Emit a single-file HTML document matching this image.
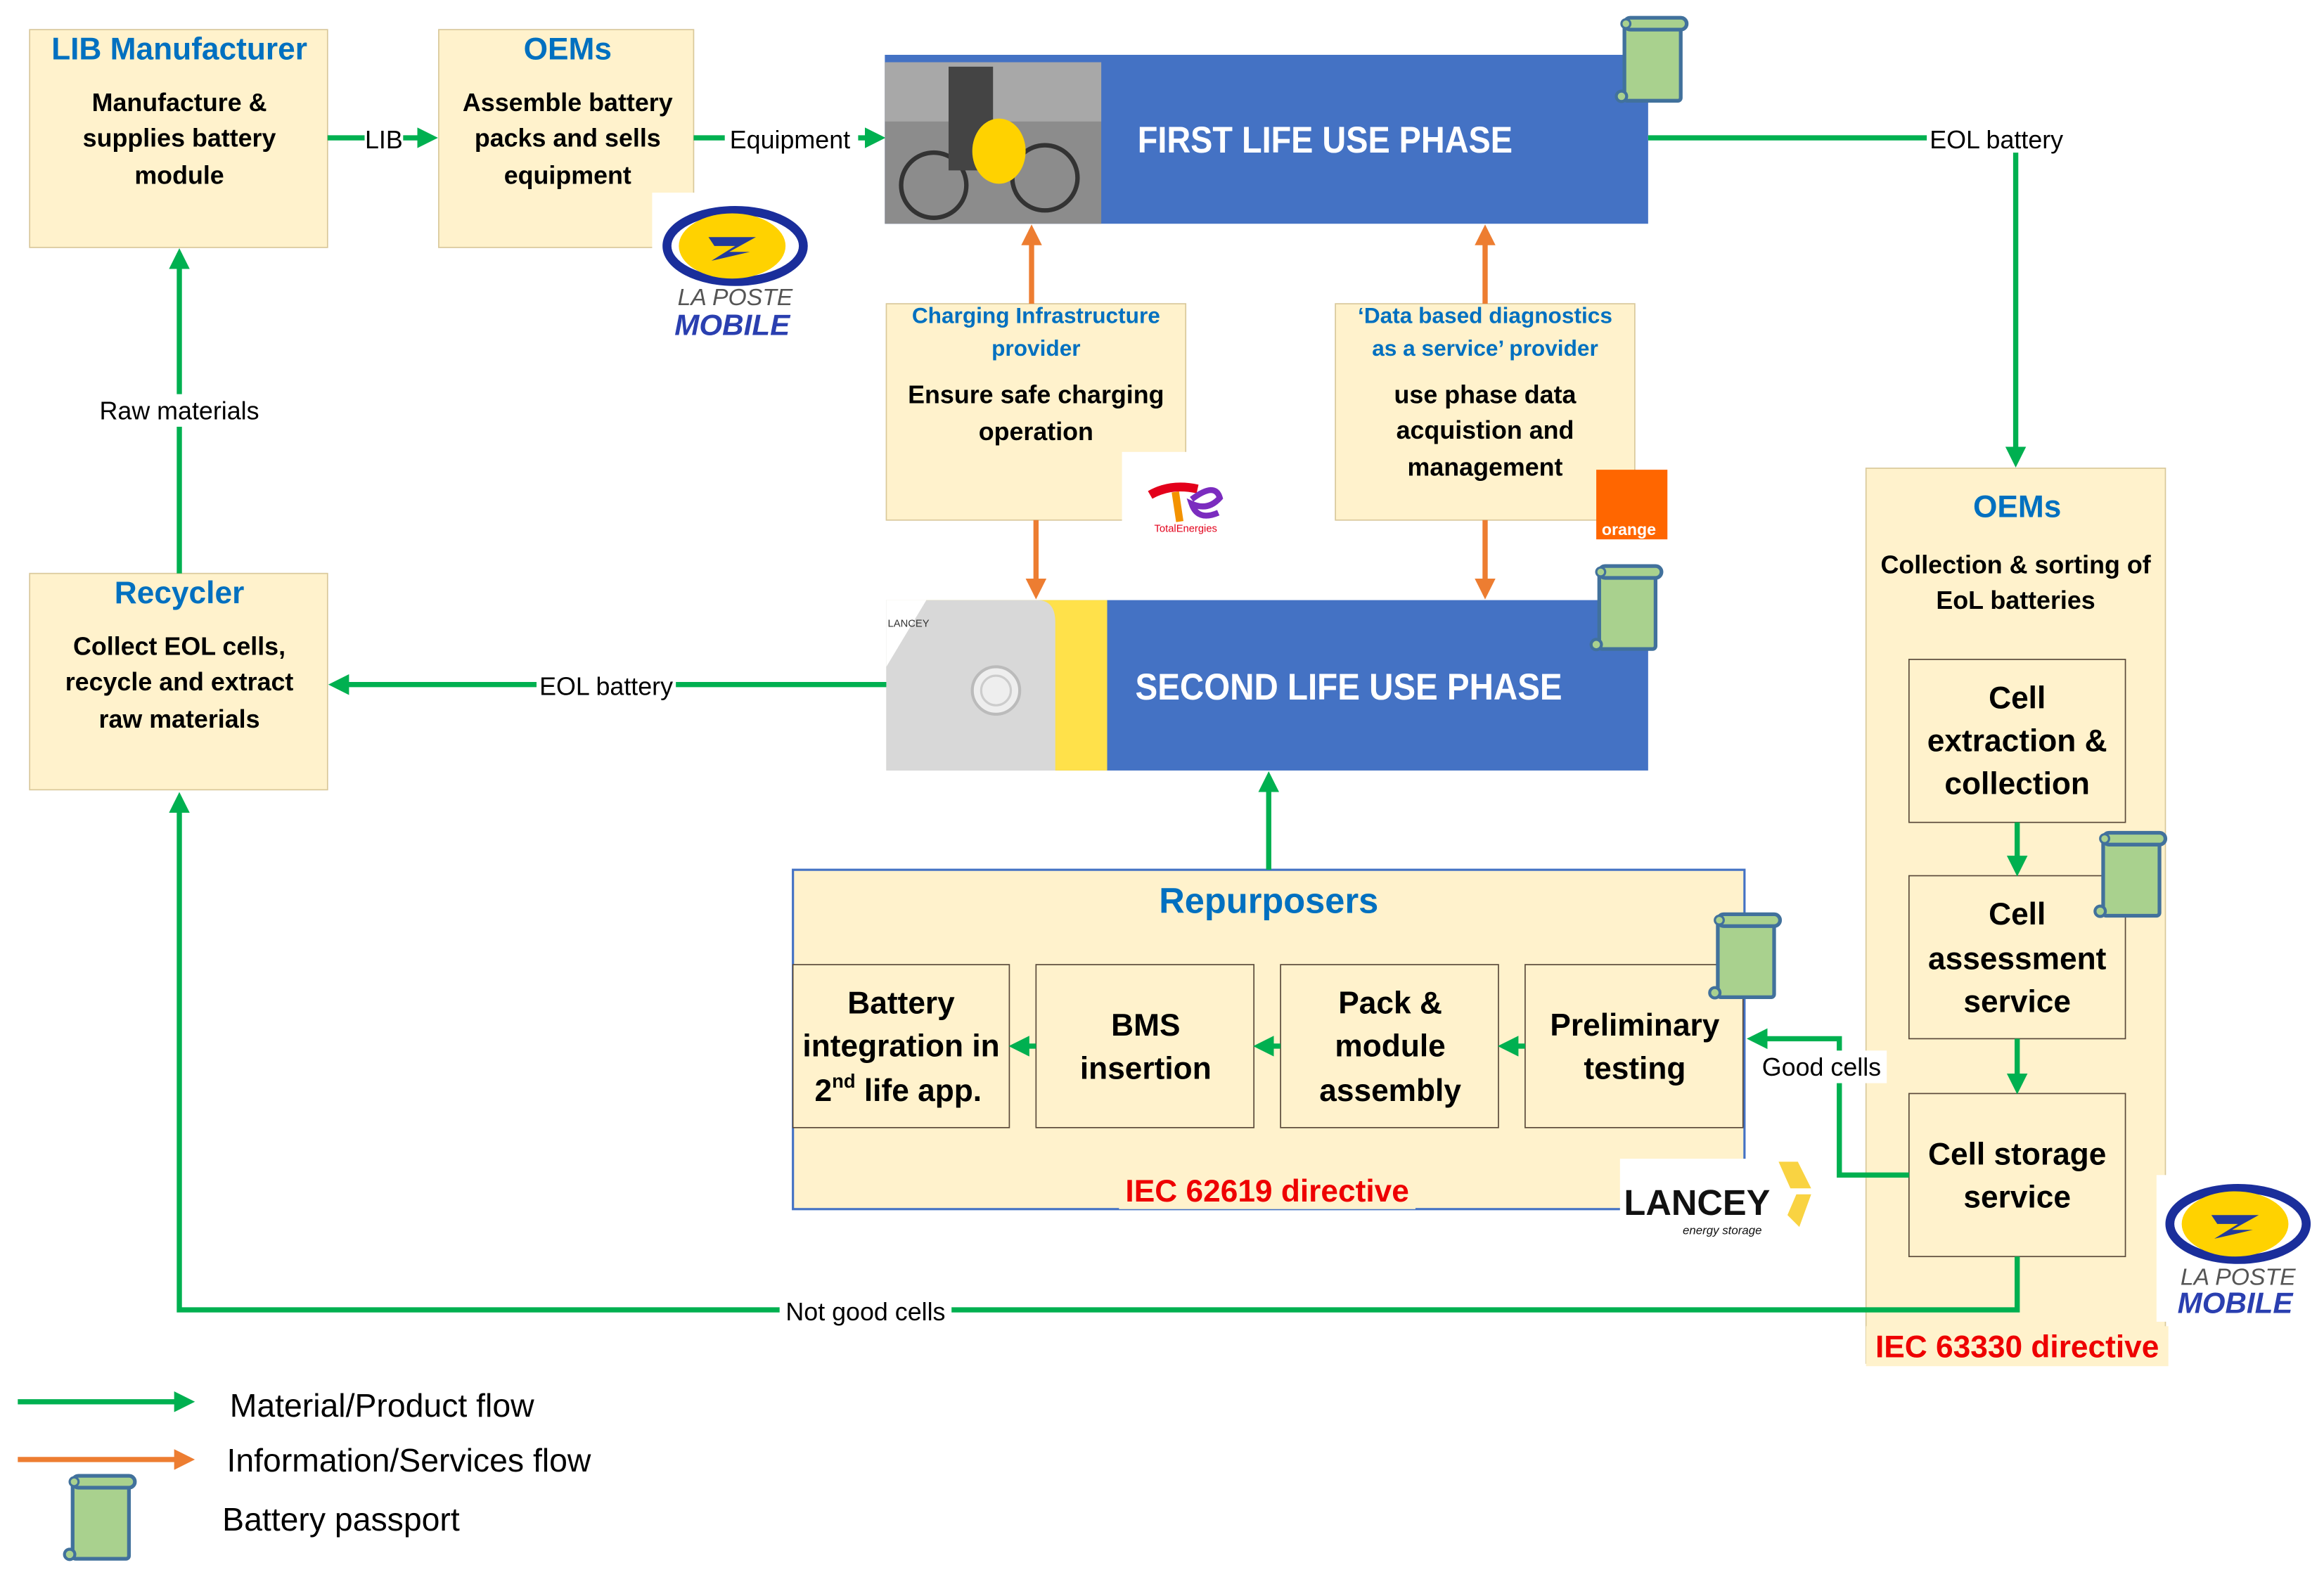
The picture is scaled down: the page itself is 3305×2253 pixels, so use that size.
<!DOCTYPE html>
<html><head><meta charset="utf-8"><style>
html,body{margin:0;padding:0;background:#fff;}
svg{display:block;}
text{font-family:"Liberation Sans Narrow","Liberation Sans",sans-serif;}
.t{fill:#0070c0;font-weight:bold;text-anchor:middle;}
.b{fill:#000;font-weight:bold;text-anchor:middle;}
.n{fill:#000;text-anchor:middle;}
.box{fill:#fff2cc;stroke:#d9c89a;stroke-width:0.8;}
.sub{fill:#fff2cc;stroke:#5a4a3a;stroke-width:0.8;}
.g{stroke:#00b050;stroke-width:3.5;fill:none;}
.o{stroke:#ed7d31;stroke-width:3.5;fill:none;}
.red{fill:#ee0000;font-weight:bold;text-anchor:middle;}
</style></head><body>
<svg width="3305" height="2253" viewBox="0 0 1568 1069" preserveAspectRatio="none" xmlns="http://www.w3.org/2000/svg">
<defs>
<marker id="ga" markerWidth="4" markerHeight="4" refX="3" refY="2" orient="auto" markerUnits="strokeWidth"><path d="M0,0 L4,2 L0,4 z" fill="#00b050"/></marker>
<marker id="oa" markerWidth="4" markerHeight="4" refX="3" refY="2" orient="auto" markerUnits="strokeWidth"><path d="M0,0 L4,2 L0,4 z" fill="#ed7d31"/></marker>
<g id="pp">
<rect x="8" y="6" width="38" height="52" fill="#a9d18e" stroke="#41719c" stroke-width="2.5" rx="2"/>
<rect x="8" y="2" width="42" height="8" rx="4" fill="#a9d18e" stroke="#41719c" stroke-width="2.5"/>
<circle cx="9" cy="6" r="3" fill="#a9d18e" stroke="#41719c" stroke-width="1.5"/>
<circle cx="6" cy="55" r="3.5" fill="#a9d18e" stroke="#41719c" stroke-width="2"/>
</g>
<g id="lp">
<ellipse cx="52" cy="30" rx="46" ry="24" fill="none" stroke="#1a2e9b" stroke-width="6"/>
<ellipse cx="50" cy="30" rx="36" ry="22" fill="#ffd200"/>
<path d="M34,24 L66,24 L48,34 L62,34 L36,40 L52,30 L38,30 z" fill="#233a9a"/>
</g>
</defs>

<rect class="box" x="20" y="20" width="201" height="147"/>
<text class="t" x="121" y="40" font-size="21">LIB Manufacturer</text>
<text class="b" x="121" y="75" font-size="17">Manufacture &amp;</text>
<text class="b" x="121" y="99" font-size="17">supplies battery</text>
<text class="b" x="121" y="124" font-size="17">module</text>

<rect class="box" x="296" y="20" width="172" height="147"/>
<text class="t" x="383" y="40" font-size="21">OEMs</text>
<text class="b" x="383" y="75" font-size="17">Assemble battery</text>
<text class="b" x="383" y="99" font-size="17">packs and sells</text>
<text class="b" x="383" y="124" font-size="17">equipment</text>
<rect x="440" y="130" width="106" height="102" fill="#fff"/>
<use href="#lp" x="444" y="136"/>
<text x="496" y="206" font-size="16" fill="#555" text-anchor="middle" font-style="italic" font-family="Liberation Sans">LA POSTE</text>
<text x="494" y="226" font-size="20" fill="#2a3fb0" text-anchor="middle" font-style="italic" font-weight="bold" font-family="Liberation Sans">MOBILE</text>

<line class="g" x1="221" y1="93" x2="292" y2="93" marker-end="url(#ga)"/>
<rect x="246" y="83" width="26" height="20" fill="#fff"/>
<text class="n" x="259" y="100" font-size="17">LIB</text>
<line class="g" x1="468" y1="93" x2="594" y2="93" marker-end="url(#ga)"/>
<rect x="489" y="83" width="90" height="20" fill="#fff"/>
<text class="n" x="533" y="100" font-size="17">Equipment</text>

<rect x="597" y="37" width="515" height="114" fill="#4472c4"/>
<rect x="597" y="42" width="146" height="109" fill="#8c8c8c"/>
<rect x="597" y="42" width="146" height="40" fill="#a8a8a8"/>
<circle cx="630" cy="125" r="22" fill="none" stroke="#333" stroke-width="3"/>
<circle cx="705" cy="120" r="22" fill="none" stroke="#333" stroke-width="3"/>
<rect x="640" y="45" width="30" height="70" fill="#444"/>
<ellipse cx="674" cy="102" rx="18" ry="22" fill="#ffd200"/>
<text x="894" y="103" font-size="25" fill="#fff" font-weight="bold" text-anchor="middle" textLength="253" lengthAdjust="spacingAndGlyphs">FIRST LIFE USE PHASE</text>
<use href="#pp" x="1088" y="10"/>

<line class="g" x1="1112" y1="93" x2="1360" y2="93"/>
<line class="g" x1="1360" y1="93" x2="1360" y2="312" marker-end="url(#ga)"/>
<rect x="1300" y="83" width="94" height="20" fill="#fff"/>
<text class="n" x="1347" y="100" font-size="17">EOL battery</text>

<rect class="box" x="598" y="205" width="202" height="146"/>
<text class="t" x="699" y="218" font-size="15">Charging Infrastructure</text>
<text class="t" x="699" y="240" font-size="15">provider</text>
<text class="b" x="699" y="272" font-size="17">Ensure safe charging</text>
<text class="b" x="699" y="297" font-size="17">operation</text>
<rect x="757" y="305" width="88" height="62" fill="#fff"/>
<path d="M776,334 Q790,326 808,330" stroke="#e3001b" stroke-width="6" fill="none"/>
<path d="M793,332 L796,352" stroke="#f39200" stroke-width="5"/>
<path d="M804,337 Q820,325 823,336 Q815,345 804,340 Q808,352 822,346" stroke="#7b2cbf" stroke-width="4" fill="none"/>
<text x="800" y="359" font-size="7" fill="#e3001b" text-anchor="middle">TotalEnergies</text>
<line class="o" x1="696" y1="205" x2="696" y2="155" marker-end="url(#oa)"/>
<line class="o" x1="699" y1="351" x2="699" y2="401" marker-end="url(#oa)"/>

<rect class="box" x="901" y="205" width="202" height="146"/>
<text class="t" x="1002" y="218" font-size="15">‘Data based diagnostics</text>
<text class="t" x="1002" y="240" font-size="15">as a service’ provider</text>
<text class="b" x="1002" y="272" font-size="17">use phase data</text>
<text class="b" x="1002" y="296" font-size="17">acquistion and</text>
<text class="b" x="1002" y="321" font-size="17">management</text>
<rect x="1077" y="317" width="48" height="47" fill="#ff6600"/>
<text x="1099" y="361" font-size="11" fill="#fff" text-anchor="middle" font-weight="bold">orange</text>
<line class="o" x1="1002" y1="205" x2="1002" y2="155" marker-end="url(#oa)"/>
<line class="o" x1="1002" y1="351" x2="1002" y2="401" marker-end="url(#oa)"/>

<rect x="598" y="405" width="514" height="115" fill="#4472c4"/>
<rect x="598" y="405" width="149" height="115" fill="#ffe14a"/>
<path d="M598,405 L700,405 Q712,405 712,420 L712,520 L598,520 z" fill="#d8d8d8"/>
<path d="M598,405 L625,405 L598,450 z" fill="#fff"/>
<circle cx="672" cy="466" r="16" fill="#eee" stroke="#bbb" stroke-width="2"/>
<circle cx="672" cy="466" r="10" fill="none" stroke="#ccc" stroke-width="1.5"/>
<text x="613" y="423" font-size="7" fill="#333" text-anchor="middle">LANCEY</text>
<text x="910" y="472" font-size="25" fill="#fff" font-weight="bold" text-anchor="middle" textLength="288" lengthAdjust="spacingAndGlyphs">SECOND LIFE USE PHASE</text>
<use href="#pp" x="1071" y="380"/>

<line class="g" x1="598" y1="462" x2="225" y2="462" marker-end="url(#ga)"/>
<rect x="362" y="452" width="94" height="20" fill="#fff"/>
<text class="n" x="409" y="469" font-size="17">EOL battery</text>

<rect class="box" x="20" y="387" width="201" height="146"/>
<text class="t" x="121" y="407" font-size="21">Recycler</text>
<text class="b" x="121" y="442" font-size="17">Collect EOL cells,</text>
<text class="b" x="121" y="466" font-size="17">recycle and extract</text>
<text class="b" x="121" y="491" font-size="17">raw materials</text>
<line class="g" x1="121" y1="387" x2="121" y2="171" marker-end="url(#ga)"/>
<rect x="60" y="266" width="122" height="22" fill="#fff"/>
<text class="n" x="121" y="283" font-size="17">Raw materials</text>

<rect x="535" y="587" width="642" height="229" fill="#fff2cc" stroke="#4472c4" stroke-width="1.5"/>
<text class="t" x="856" y="616" font-size="24">Repurposers</text>
<rect class="sub" x="535" y="651" width="146" height="110"/>
<rect class="sub" x="699" y="651" width="147" height="110"/>
<rect class="sub" x="864" y="651" width="147" height="110"/>
<rect class="sub" x="1029" y="651" width="147" height="110"/>
<text class="b" x="608" y="684" font-size="21">Battery</text>
<text class="b" x="608" y="713" font-size="21">integration in</text>
<text class="b" x="606" y="743" font-size="21">2<tspan font-size="13" dy="-9">nd</tspan><tspan dy="9"> life app.</tspan></text>
<text class="b" x="773" y="699" font-size="21">BMS</text>
<text class="b" x="773" y="728" font-size="21">insertion</text>
<text class="b" x="938" y="684" font-size="21">Pack &amp;</text>
<text class="b" x="938" y="713" font-size="21">module</text>
<text class="b" x="938" y="743" font-size="21">assembly</text>
<text class="b" x="1103" y="699" font-size="21">Preliminary</text>
<text class="b" x="1103" y="728" font-size="21">testing</text>
<line class="g" x1="699" y1="706" x2="684" y2="706" marker-end="url(#ga)"/>
<line class="g" x1="864" y1="706" x2="849" y2="706" marker-end="url(#ga)"/>
<line class="g" x1="1029" y1="706" x2="1014" y2="706" marker-end="url(#ga)"/>
<use href="#pp" x="1151" y="615"/>
<line class="g" x1="856" y1="587" x2="856" y2="524" marker-end="url(#ga)"/>
<rect x="755" y="790" width="200" height="26" fill="#fff2cc"/>
<text class="red" x="855" y="811" font-size="21">IEC 62619 directive</text>
<rect x="1093" y="782" width="132" height="56" fill="#fff"/>
<text x="1145" y="820" font-size="24" font-weight="bold" fill="#111" text-anchor="middle" font-family="Liberation Sans">LANCEY</text>
<text x="1162" y="833" font-size="8" font-style="italic" fill="#111" text-anchor="middle">energy storage</text>
<path d="M1200,784 L1213,784 L1222,802 L1208,802 z M1212,806 L1222,806 L1214,828 L1206,820 z" fill="#f9d342"/>

<rect class="box" x="1259" y="316" width="202" height="604"/>
<text class="t" x="1361" y="349" font-size="21">OEMs</text>
<text class="b" x="1360" y="387" font-size="17">Collection &amp; sorting of</text>
<text class="b" x="1360" y="411" font-size="17">EoL batteries</text>
<rect class="sub" x="1288" y="445" width="146" height="110"/>
<rect class="sub" x="1288" y="591" width="146" height="110"/>
<rect class="sub" x="1288" y="738" width="146" height="110"/>
<text class="b" x="1361" y="478" font-size="21">Cell</text>
<text class="b" x="1361" y="507" font-size="21">extraction &amp;</text>
<text class="b" x="1361" y="536" font-size="21">collection</text>
<text class="b" x="1361" y="624" font-size="21">Cell</text>
<text class="b" x="1361" y="654" font-size="21">assessment</text>
<text class="b" x="1361" y="683" font-size="21">service</text>
<text class="b" x="1361" y="786" font-size="21">Cell storage</text>
<text class="b" x="1361" y="815" font-size="21">service</text>
<line class="g" x1="1361" y1="555" x2="1361" y2="588" marker-end="url(#ga)"/>
<line class="g" x1="1361" y1="701" x2="1361" y2="735" marker-end="url(#ga)"/>
<use href="#pp" x="1411" y="560"/>

<polyline class="g" points="1288,793 1241,793 1241,701 1182,701" marker-end="url(#ga)"/>
<rect x="1185" y="709" width="88" height="22" fill="#fff"/>
<text class="n" x="1229" y="726" font-size="17">Good cells</text>

<polyline class="g" points="1361,848 1361,884 121,884 121,538" marker-end="url(#ga)"/>
<rect x="526" y="874" width="116" height="20" fill="#fff"/>
<text class="n" x="584" y="891" font-size="17">Not good cells</text>

<rect x="1455" y="793" width="105" height="99" fill="#fff"/>
<use href="#lp" x="1458" y="796"/>
<text x="1510" y="867" font-size="16" fill="#555" text-anchor="middle" font-style="italic" font-family="Liberation Sans">LA POSTE</text>
<text x="1508" y="886" font-size="20" fill="#2a3fb0" text-anchor="middle" font-style="italic" font-weight="bold" font-family="Liberation Sans">MOBILE</text>
<rect x="1259" y="895" width="204" height="27" fill="#fff2cc"/>
<text class="red" x="1361" y="916" font-size="21">IEC 63330 directive</text>

<line class="g" x1="12" y1="946" x2="128" y2="946" marker-end="url(#ga)"/>
<text x="155" y="956" font-size="22" fill="#000">Material/Product flow</text>
<line class="o" x1="12" y1="985" x2="128" y2="985" marker-end="url(#oa)"/>
<text x="153" y="993" font-size="22" fill="#000">Information/Services flow</text>
<use href="#pp" x="41" y="994"/>
<text x="150" y="1033" font-size="22" fill="#000">Battery passport</text>
</svg>
</body></html>
